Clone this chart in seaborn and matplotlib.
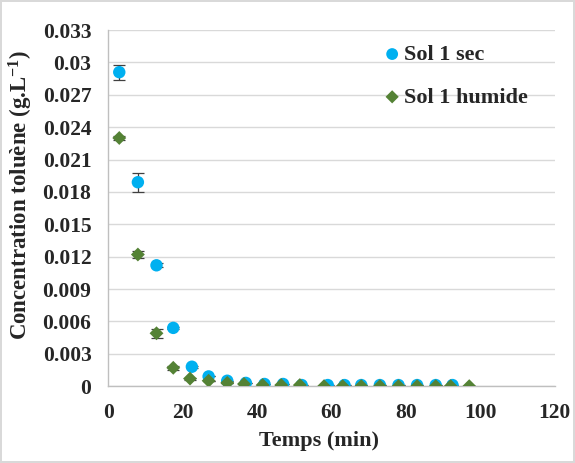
import matplotlib
matplotlib.use("Agg")
import matplotlib.pyplot as plt
import numpy as np
import pandas as pd
import seaborn as sns

# ---- data ----
sec_time = [3, 8, 13, 17.5, 22.5, 27, 32, 37, 42, 47, 52, 59, 63.5, 68, 73, 78, 83, 88, 92.5]
sec_conc = [0.0291, 0.0189, 0.0112, 0.0054, 0.0018, 0.0009, 0.0005, 0.0003, 0.0002, 0.0002,
            0.0001, 0.0001, 0.0001, 0.0001, 0.0001, 0.0001, 0.0001, 0.0001, 0.0001]
sec_err = [0.0007, 0.0009, 0.0002, 0.0001, 0.0001, 0, 0, 0, 0, 0,
           0, 0, 0, 0, 0, 0, 0, 0, 0]

hum_time = [3, 8, 13, 17.5, 22, 27, 32, 36.5, 41.5, 46.5, 51.5, 58, 63, 68, 73, 78, 83, 88, 92, 97]
hum_conc = [0.0230, 0.0122, 0.0049, 0.0017, 0.0007, 0.0005, 0.0003, 0.0002, 0.0001, 0.0001,
            0.0001, 0.0, 0.0, 0.0, 0.0, 0.0, 0.0, 0.0, 0.0, 0.0]
hum_err = [0.0002, 0.0003, 0.0004, 0.0002, 0.0001, 0, 0, 0, 0, 0,
           0, 0, 0, 0, 0, 0, 0, 0, 0, 0]

series_names = ["Sol 1 sec", "Sol 1 humide"]
y_ticks = [0, 0.003, 0.006, 0.009, 0.012, 0.015, 0.018, 0.021, 0.024, 0.027, 0.03, 0.033]
y_labels = ["0", "0.003", "0.006", "0.009", "0.012", "0.015", "0.018", "0.021",
            "0.024", "0.027", "0.03", "0.033"]
x_ticks = [0, 20, 40, 60, 80, 100, 120]

df = pd.concat([
    pd.DataFrame({"t": sec_time, "c": sec_conc, "err": sec_err, "serie": series_names[0]}),
    pd.DataFrame({"t": hum_time, "c": hum_conc, "err": hum_err, "serie": series_names[1]}),
])

sns.set_style("white")
plt.rcParams["font.family"] = ["Liberation Serif", "DejaVu Serif"]
plt.rcParams["font.weight"] = "bold"
plt.rcParams["mathtext.fontset"] = "custom"
plt.rcParams["mathtext.rm"] = "Liberation Serif:bold"
plt.rcParams["mathtext.default"] = "rm"

palette = {series_names[0]: "#00B0F0", series_names[1]: "#548235"}
markers = {series_names[0]: "o", series_names[1]: "D"}
sizes = {series_names[0]: 80, series_names[1]: 50}

fig = plt.figure(figsize=(5.75, 4.63), dpi=100)
fig.patch.set_edgecolor("#d9d9d9")
fig.patch.set_linewidth(1.5)
ax = fig.add_axes([0.188, 0.166, 0.777, 0.769])

# error bars under the markers
for name in series_names:
    sub = df[df["serie"] == name]
    ax.errorbar(sub["t"], sub["c"], yerr=sub["err"], fmt="none",
                ecolor="#404040", elinewidth=0.9, capsize=4.5, capthick=0.9, zorder=2)

for name in series_names:
    sub = df[df["serie"] == name]
    sns.scatterplot(data=sub, x="t", y="c", color=palette[name], marker=markers[name],
                    s=sizes[name], edgecolor="none", ax=ax, zorder=3, label=name)

ax.set_xlim(0, 120)
ax.set_ylim(0, 0.033)
ax.set_xticks(x_ticks)
ax.set_yticks(y_ticks)
ax.set_yticklabels(y_labels)
ax.yaxis.grid(True, color="#d9d9d9", linewidth=1)
ax.set_axisbelow(True)
ax.tick_params(axis="both", length=0, labelsize=15.5, pad=12)
for lab in ax.get_xticklabels() + ax.get_yticklabels():
    lab.set_fontweight("bold")

for side in ["top", "right"]:
    ax.spines[side].set_visible(False)
for side in ["left", "bottom"]:
    ax.spines[side].set_color("#bfbfbf")
    ax.spines[side].set_linewidth(1)

ax.set_xlabel("Temps (min)", fontsize=16, fontweight="bold")
ax.set_ylabel("Concentration toluène (g.L$^{-1}$)", fontsize=16.5, fontweight="bold")
ax.xaxis.set_label_coords(0.472, -0.125)
ax.yaxis.set_label_coords(-0.163, 0.537)

ax.legend(loc="upper left", bbox_to_anchor=(0.596, 0.985), borderaxespad=0, frameon=False,
          prop={"weight": "bold", "size": 16}, handletextpad=0.15,
          labelspacing=1.0, handlelength=0.8, markerscale=0.95)

fig.savefig("out.png", dpi=100, edgecolor=fig.get_edgecolor())
